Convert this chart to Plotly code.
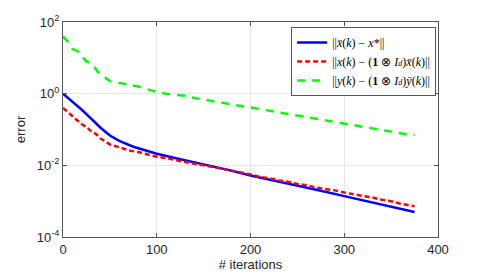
import plotly.graph_objects as go

# iterations k and error values (log-scale plot)
k_blue = [0, 10, 20, 30, 40, 50, 60, 75, 100, 125, 150, 175, 200, 225, 250, 275, 300, 325, 350, 375]
err_blue = [1.0, 0.60, 0.355, 0.20, 0.112, 0.068, 0.048, 0.033, 0.021, 0.0148, 0.0107, 0.0076,
            0.0052, 0.0038, 0.0027, 0.00195, 0.00138, 0.00100, 0.00071, 0.00050]

k_red = [0, 5, 10, 15, 20, 25, 30, 35, 40, 45, 50, 60, 70, 80, 90, 100, 110, 120, 130, 140,
         150, 160, 170, 180, 190, 200, 210, 220, 230, 240, 250, 260, 270, 280, 290, 300,
         310, 320, 330, 340, 350, 360, 370, 375]
err_red = [0.40, 0.31, 0.24, 0.19, 0.14, 0.118, 0.089, 0.076, 0.056, 0.047, 0.038, 0.032,
           0.026, 0.0235, 0.020, 0.0174, 0.0158, 0.0138, 0.0126, 0.0110, 0.0100, 0.0089,
           0.0083, 0.0071, 0.0065, 0.0056, 0.0047, 0.0044, 0.0038, 0.0035, 0.0030, 0.0028,
           0.0024, 0.00224, 0.0020, 0.00174, 0.00158, 0.00138, 0.00126, 0.00110, 0.00100,
           0.00085, 0.00076, 0.00072]

k_green = [0, 5, 10, 15, 20, 25, 30, 35, 40, 45, 50, 60, 70, 80, 90, 100, 110, 120, 130, 140,
           150, 160, 170, 180, 190, 200, 210, 220, 230, 240, 250, 260, 270, 280, 290, 300,
           310, 320, 330, 340, 350, 360, 370, 375]
err_green = [40.0, 28.0, 17.8, 15.8, 11.2, 7.9, 7.1, 5.0, 3.3, 2.8, 2.24, 2.0, 1.78, 1.58,
             1.32, 1.12, 1.0, 0.95, 0.87, 0.76, 0.68, 0.63, 0.55, 0.50, 0.45, 0.41, 0.37,
             0.33, 0.30, 0.27, 0.245, 0.22, 0.20, 0.178, 0.162, 0.148, 0.132, 0.118, 0.107,
             0.095, 0.087, 0.078, 0.071, 0.072]

x_ticks = [0, 100, 200, 300, 400]
y_tickvals = [1e-4, 1e-2, 1e0, 1e2]
y_ticktext = ["10<sup>-4</sup>", "10<sup>-2</sup>", "10<sup>0</sup>", "10<sup>2</sup>"]

leg_blue = "||<i>x̄</i>(<i>k</i>) − <i>x</i>*||"
leg_red = "||<i>x</i>(<i>k</i>) − (<b>1</b> ⊗ <i>I</i><span style='font-size:8px'><i>d</i></span>)<i>x̄</i>(<i>k</i>)||"
leg_green = "||<i>y</i>(<i>k</i>) − (<b>1</b> ⊗ <i>I</i><span style='font-size:8px'><i>d</i></span>)<i>ȳ</i>(<i>k</i>)||"

fig = go.Figure()
fig.add_trace(go.Scatter(x=k_blue, y=err_blue, mode="lines", name=leg_blue,
                         line=dict(color="#0000ff", width=2.5)))
fig.add_trace(go.Scatter(x=k_red, y=err_red, mode="lines", name=leg_red,
                         line=dict(color="#ff0000", width=2.5, dash="5px,3px")))
fig.add_trace(go.Scatter(x=k_green, y=err_green, mode="lines", name=leg_green,
                         line=dict(color="#00ff00", width=2.5, dash="8px,7px")))

axis_common = dict(showline=True, linecolor="#555555", linewidth=1, mirror="ticks",
                   ticks="inside", ticklen=4, tickcolor="#555555", automargin=False,
                   showgrid=True, gridcolor="#e6e6e6", gridwidth=1, zeroline=False,
                   tickfont=dict(family="Liberation Sans, Arial, sans-serif", size=13, color="#262626"))

fig.update_layout(
    width=470, height=265,
    margin=dict(l=55, r=40, t=14, b=36),
    paper_bgcolor="white", plot_bgcolor="white",
    showlegend=True,
    legend=dict(x=0.995, y=0.977, xanchor="right", yanchor="top",
                bgcolor="white", bordercolor="#555555", borderwidth=1,
                font=dict(family="Liberation Serif, Times New Roman, serif", size=12, color="black"),
                tracegroupgap=0, itemwidth=30),
    xaxis=dict(range=[0, 400], tickvals=x_ticks, **axis_common,
               title=dict(text="# iterations", standoff=4,
                          font=dict(family="Liberation Sans, Arial, sans-serif", size=13, color="#262626"))),
    yaxis=dict(type="log", range=[-4, 2], tickvals=y_tickvals, ticktext=y_ticktext, **axis_common,
               title=dict(text="error", standoff=8,
                          font=dict(family="Liberation Sans, Arial, sans-serif", size=13, color="#262626"))),
)

fig.write_html("out.html")
